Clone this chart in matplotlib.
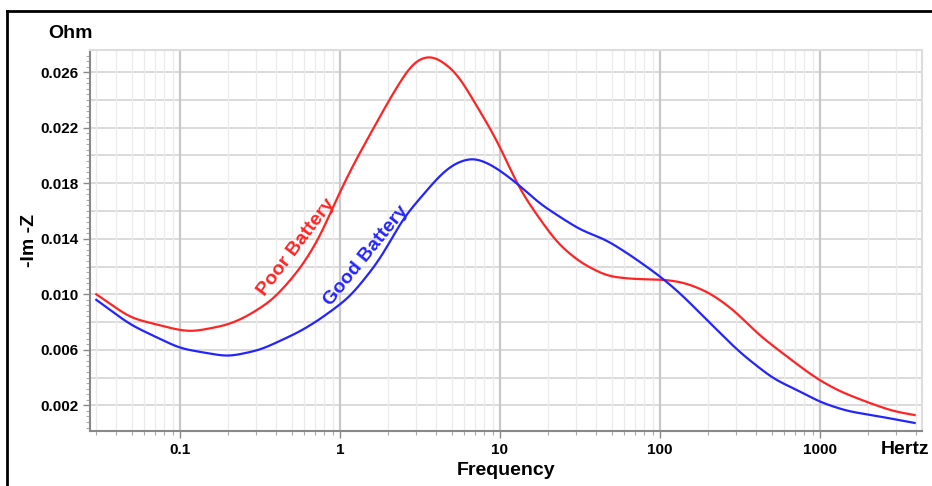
import numpy as np
import matplotlib
matplotlib.use("Agg")
from matplotlib import pyplot as plt
from matplotlib.lines import Line2D
from matplotlib.ticker import FixedLocator, NullFormatter, LogLocator

plt.rcParams['font.family'] = ['Liberation Sans', 'DejaVu Sans']
plt.rcParams['font.weight'] = 'bold'

# values (frequency in Hz, -Im Z in Ohm)
poor_f = [0.030, 0.049, 0.1, 0.12, 0.2, 0.262, 0.381, 0.562, 0.75, 0.904, 1.155, 2.05,
          2.86, 3.76, 5.37, 6.8, 9.6, 13.3, 17.8, 22.7, 31.6, 46.6, 67.6, 110, 147, 205,
          287, 422, 750, 960, 1330, 1970, 2850, 3900]
poor_z = [0.0100, 0.0083, 0.0074, 0.0073, 0.0078, 0.0084, 0.0096, 0.0118, 0.0141, 0.0163,
          0.0189, 0.0241, 0.0268, 0.0273, 0.0260, 0.0240, 0.0211, 0.0175, 0.0154, 0.0137,
          0.0123, 0.0113, 0.0111, 0.01105, 0.0108, 0.0101, 0.0089, 0.0070, 0.0048, 0.0039,
          0.0030, 0.00223, 0.00158, 0.0013]

good_f = [0.030, 0.049, 0.1, 0.2, 0.32, 0.56, 0.75, 1.155, 1.78, 2.48, 3.16, 4.22, 5.1,
          6.8, 9.0, 12.8, 17.8, 31.6, 46.6, 67.6, 100, 133, 187, 316, 512, 750, 1000,
          1470, 2460, 3900]
good_z = [0.0096, 0.0078, 0.0061, 0.0055, 0.0060, 0.0073, 0.0082, 0.0098, 0.0125, 0.0155,
          0.0169, 0.0186, 0.0194, 0.0199, 0.0193, 0.0180, 0.0165, 0.01465, 0.0139, 0.0127,
          0.0113, 0.0101, 0.0084, 0.0058, 0.0039, 0.0030, 0.00223, 0.00159, 0.00116, 0.00073]

y_labels = [0.002, 0.006, 0.010, 0.014, 0.018, 0.022, 0.026]
x_labels = [0.1, 1, 10, 100, 1000]


def curve(fs, zs, sigma=0.05):
    # linear in log f, then a gaussian blur (in decades) to round the corners
    lf = np.log10(fs)
    xx = np.linspace(lf[0], lf[-1], 1200)
    yy = np.interp(xx, lf, zs)
    dx = xx[1] - xx[0]
    n = int(3 * sigma / dx)
    k = np.exp(-0.5 * (np.arange(-n, n + 1) * dx / sigma) ** 2)
    k /= k.sum()
    # extend ends linearly so the blur keeps the end values
    left = yy[0] - (yy[1] - yy[0]) * np.arange(n, 0, -1)
    right = yy[-1] + (yy[-1] - yy[-2]) * np.arange(1, n + 1)
    yy = np.convolve(np.concatenate([left, yy, right]), k, mode='valid')
    return 10**xx, yy


fig = plt.figure(figsize=(9.32, 4.86), dpi=100)
ax = fig.add_axes([90/932, 1-431/486, 832/932, 381/486])

fx, fz = curve(poor_f, poor_z)
gx, gz = curve(good_f, good_z)
ax.plot(fx, fz, color='#ff2424', lw=1.6, zorder=3)
ax.plot(gx, gz, color='#2424ff', lw=1.6, zorder=3)

ax.set_xscale('log')
ax.set_xlim(0.0274, 4340)
ax.set_ylim(0.00015, 0.0276)

# grid
for v in np.arange(0.002, 0.0275, 0.002):
    ax.axhline(v, color='#d4d4d4', lw=1.2, zorder=1)
ax.xaxis.set_major_locator(FixedLocator(x_labels))
ax.xaxis.set_minor_locator(LogLocator(base=10, subs=np.arange(2, 10)))
ax.xaxis.set_minor_formatter(NullFormatter())
ax.set_xticklabels(['0.1', '1', '10', '100', '1000'])
ax.grid(True, which='major', axis='x', color='#c8c8c8', lw=1.6, zorder=1)
ax.grid(True, which='minor', axis='x', color='#ececec', lw=1.0, zorder=0)

ax.yaxis.set_major_locator(FixedLocator(y_labels))
ax.set_yticklabels(['%.3f' % v for v in y_labels])
ax.yaxis.set_minor_locator(FixedLocator(np.arange(0.0004, 0.0276, 0.0004)))

ax.tick_params(axis='both', which='major', labelsize=11, color='#888888', length=5, width=1)
ax.tick_params(axis='both', which='minor', color='#aaaaaa', length=3, width=0.8)
for lab in ax.get_xticklabels() + ax.get_yticklabels():
    lab.set_fontweight('bold')

for s in ['left', 'bottom']:
    ax.spines[s].set_color('#888888')
    ax.spines[s].set_linewidth(1.5)
for s in ['top', 'right']:
    ax.spines[s].set_color('#dddddd')
    ax.spines[s].set_linewidth(1.5)

ax.set_xlabel('Frequency', fontsize=14, fontweight='bold', labelpad=4)
fig.text(48/932, 1-33/486, 'Ohm', fontsize=14, fontweight='bold', ha='left', va='center')
fig.text(905/932, 1-449/486, 'Hertz', fontsize=14, fontweight='bold', ha='center', va='center')
fig.text(30/932, 1-240/486, '-Im -Z', fontsize=14, fontweight='bold', rotation=90,
         ha='center', va='center')

ax.text(0.53, 0.0134, 'Poor Battery', color='#ff2424', fontsize=14, fontweight='bold',
        rotation=53, ha='center', va='center', rotation_mode='anchor')
ax.text(1.45, 0.0128, 'Good Battery', color='#2424ff', fontsize=14, fontweight='bold',
        rotation=51, ha='center', va='center', rotation_mode='anchor')

# outer frame
fig.add_artist(Line2D([7/932, 7/932], [0, 1-11/486], color='black', lw=2, transform=fig.transFigure))
fig.add_artist(Line2D([7/932, 1], [1-11/486, 1-11/486], color='black', lw=2, transform=fig.transFigure))

fig.savefig('out.png', dpi=100)
